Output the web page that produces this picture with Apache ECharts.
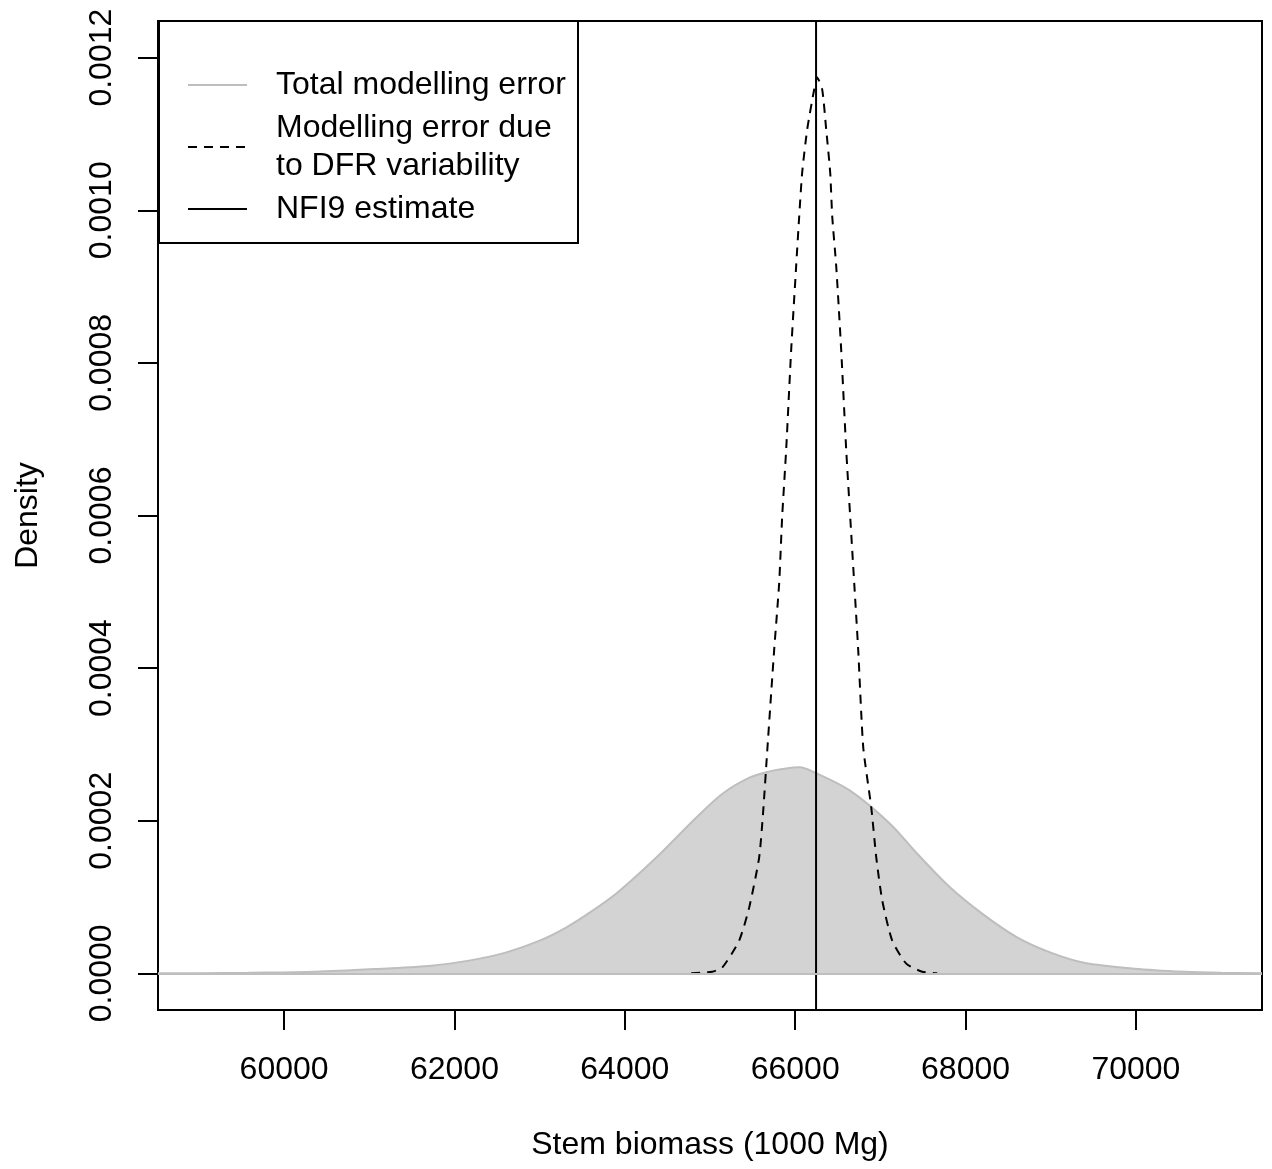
<!DOCTYPE html>
<html>
<head>
<meta charset="utf-8">
<script src="https://cdn.jsdelivr.net/npm/echarts@6/dist/echarts.min.js"></script>
<style>
  html, body { margin: 0; padding: 0; background: #fff; }
  #chart { width: 1272px; height: 1169px; }
</style>
</head>
<body>
<div id="chart"></div>
<script>
// density of total modelling error (gray area)
var totalX = [58520, 59000, 59580, 60370, 61140, 61730, 62170, 62600, 63000, 63310, 63600, 63900,
    64370, 64840, 65150, 65470, 65700, 65850, 66050, 66250, 66640, 67110, 67430, 67820,
    68210, 68610, 69000, 69390, 69980, 70570, 71000, 71480];
var totalY = [0.0000002, 0.0000003, 0.0000009, 0.0000022, 0.0000062, 0.0000101, 0.0000167, 0.0000272,
    0.0000429, 0.0000600, 0.0000805, 0.0001046, 0.0001518, 0.0002043, 0.0002358, 0.0002568,
    0.0002647, 0.0002677, 0.0002700, 0.0002621, 0.0002398, 0.0001965, 0.0001571, 0.0001125,
    0.0000770, 0.0000469, 0.0000272, 0.0000140, 0.0000062, 0.0000022, 0.0000009, 0.0000003];

// density of modelling error due to DFR variability (dashed)
var dfrX = [64779, 65025, 65143, 65342, 65460, 65577, 65624, 65671, 65753, 65812, 65847, 65894,
    65953, 66011, 66047, 66082, 66141, 66223, 66258, 66317, 66364, 66411, 66435, 66482,
    66540, 66599, 66646, 66693, 66740, 66799, 66893, 66952, 67022, 67139, 67304, 67491, 67667];
var dfrY = [0, 0.0000022, 0.0000075, 0.0000429, 0.0000862, 0.0001518, 0.0002120, 0.0002900,
    0.0004235, 0.0005114, 0.0005980, 0.0006859, 0.0008171, 0.0009261, 0.0009917, 0.0010494,
    0.0011059, 0.0011583, 0.0011741, 0.0011583, 0.0011059, 0.0010494, 0.0009917, 0.0009261,
    0.0008171, 0.0006859, 0.0005980, 0.0005114, 0.0004235, 0.0002962, 0.0002175, 0.0001518,
    0.0000955, 0.0000429, 0.0000127, 0.0000022, 0];

var nfi9Estimate = 66245;

var xTicks = [60000, 62000, 64000, 66000, 68000, 70000];
var yTicks = [0, 0.0002, 0.0004, 0.0006, 0.0008, 0.0010, 0.0012];

var xMin = 58520, xMax = 71480;
var yMin = -0.000048, yMax = 0.001248;

var FONT = '"Liberation Sans", Arial, Helvetica, sans-serif';
var FS = 32;

function pairs(xs, ys) {
    return xs.map(function (x, i) { return [x, ys[i]]; });
}

var chart = echarts.init(document.getElementById('chart'), null, { renderer: 'canvas' });

var option = {
    animation: false,
    backgroundColor: '#ffffff',
    textStyle: { fontFamily: FONT },
    grid: {
        left: 158, right: 10, top: 21, bottom: 159,
        show: true, borderColor: '#000', borderWidth: 2, backgroundColor: 'transparent'
    },
    legend: {
        orient: 'vertical',
        left: 182, top: 61,
        itemWidth: 59, itemHeight: 20, itemGap: 5,
        itemStyle: { opacity: 0 }, // only the line sample, no symbol
        textStyle: { fontFamily: FONT, fontSize: FS, lineHeight: 38, color: '#000', padding: [0, 0, 0, 24] },
        data: ['Total modelling error', 'Modelling error due\nto DFR variability', 'NFI9 estimate'],
        selectedMode: false,
        z: 10
    },
    graphic: [{
        type: 'rect',
        shape: { x: 159, y: 21, width: 419, height: 222 },
        style: { fill: '#fff', stroke: '#000', lineWidth: 2 },
        z: 5
    }],
    xAxis: {
        type: 'value', min: xMin, max: xMax,
        name: 'Stem biomass (1000 Mg)', nameLocation: 'middle', nameGap: 119,
        nameTextStyle: { fontFamily: FONT, fontSize: FS, color: '#000' },
        axisLine: { show: false, onZero: false },
        splitLine: { show: false },
        axisTick: { show: true, length: 20, customValues: xTicks, lineStyle: { color: '#000', width: 2 } },
        axisLabel: { customValues: xTicks, margin: 44, fontFamily: FONT, fontSize: FS, color: '#000',
            formatter: function (v) { return String(v); } }
    },
    yAxis: {
        type: 'value', min: yMin, max: yMax,
        name: 'Density', nameLocation: 'middle', nameGap: 114,
        nameTextStyle: { fontFamily: FONT, fontSize: FS, color: '#000' },
        axisLine: { show: false, onZero: false },
        splitLine: { show: false },
        axisTick: { show: true, length: 20, customValues: yTicks, lineStyle: { color: '#000', width: 2 } },
        axisLabel: { customValues: yTicks, rotate: 90, margin: 40, fontFamily: FONT, fontSize: FS, color: '#000',
            formatter: function (v) { return v.toFixed(4); } }
    },
    series: [{
        name: 'Total modelling error',
        type: 'line',
        data: pairs(totalX, totalY),
        symbol: 'none',
        smooth: 0.3,
        clip: true,
        lineStyle: { color: '#BEBEBE', width: 2 },
        itemStyle: { color: '#BEBEBE' },
        areaStyle: { color: '#D3D3D3', opacity: 1 },
        markLine: {
            silent: true, symbol: 'none', label: { show: false },
            lineStyle: { color: '#BEBEBE', width: 2, type: 'solid' },
            data: [{ yAxis: 0 }]
        }
    }, {
        name: 'Modelling error due\nto DFR variability',
        type: 'line',
        data: pairs(dfrX, dfrY),
        symbol: 'none',
        smooth: 0.2,
        lineStyle: { color: '#000', width: 2, type: [9, 7] },
        itemStyle: { color: '#000' }
    }, {
        name: 'NFI9 estimate',
        type: 'line',
        data: [[nfi9Estimate, yMin], [nfi9Estimate, yMax]],
        symbol: 'none',
        lineStyle: { color: '#000', width: 2 },
        itemStyle: { color: '#000' }
    }]
};

chart.setOption(option);
</script>
</body>
</html>
